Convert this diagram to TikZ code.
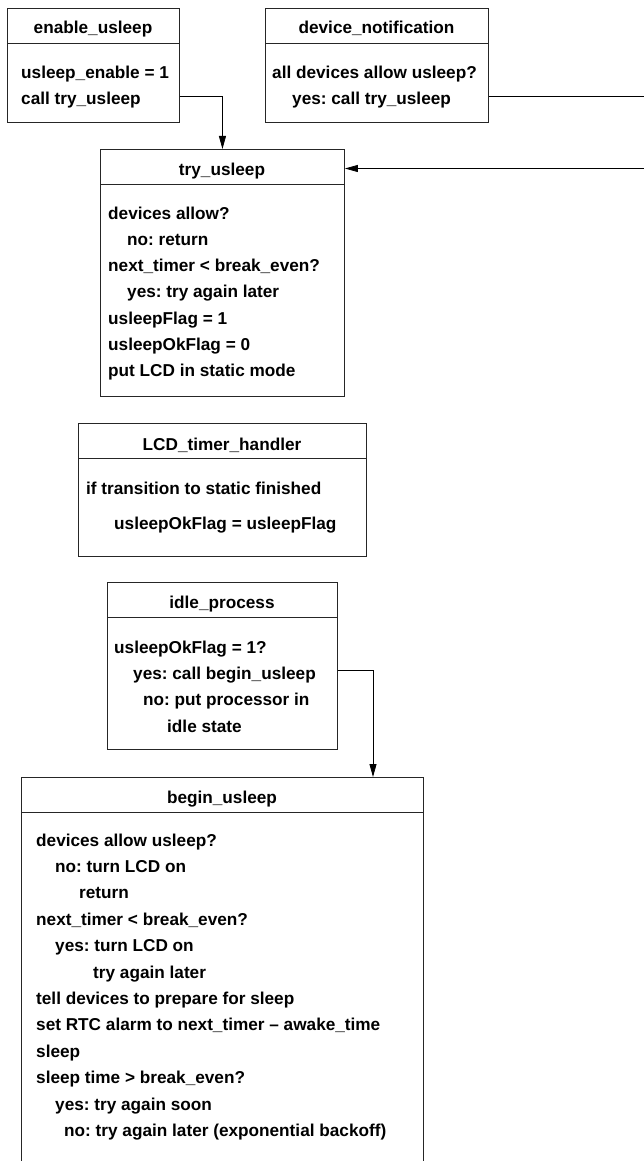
\documentclass[tikz,border=0pt]{standalone}
\usepackage{fontspec}
\setmainfont{Liberation Sans}
\usetikzlibrary{arrows.meta,calc}
\frenchspacing
\newcommand\mybodyfont{\frenchspacing\bfseries\fontsize{17.2}{20}\selectfont}
\begin{document}
\begin{tikzpicture}[x=1pt,y=-1pt,
  box/.style={draw=black!85, line width=0.9pt, inner sep=0pt, anchor=north west, fill=white},
  ln/.style={anchor=base west, inner sep=0pt, font=\mybodyfont},
  ttl/.style={anchor=base, inner sep=0pt, font=\mybodyfont},
  divider/.style={draw=black!85, line width=0.9pt},
  arr/.style={draw=black, line width=0.8pt, -{Triangle[length=13pt,width=7pt]}}]
\fill[white] (0,0) rectangle (643,1161);
\useasboundingbox (0,0) rectangle (643,1161);

% boxes
\node[box, minimum width=172pt, minimum height=114pt] (enable) at (7,8) {};
\node[box, minimum width=223pt, minimum height=114pt] (device) at (265,8) {};
\node[box, minimum width=244pt, minimum height=247pt] (try) at (100,149) {};
\node[box, minimum width=288pt, minimum height=133pt] (lcd) at (78,423) {};
\node[box, minimum width=230pt, minimum height=167pt] (idle) at (107,582) {};
\node[box, minimum width=402pt, minimum height=420pt] (begin) at (21,777) {};

% dividers
\foreach \b in {enable,device,try,lcd,idle,begin}{
  \draw[divider] ($(\b.north west)+(0,35)$) -- ($(\b.north east)+(0,35)$);
}

% titles
\node[ttl] (tEnable) at (93,34) {enable\_usleep};
\node[ttl] (tDevice) at (376.5,34) {device\_notification};
\node[ttl] (tTry) at (222,175.5) {try\_usleep};
\node[ttl] (tLcd) at (222,450) {LCD\_timer\_handler};
\node[ttl] (tIdle) at (222,608.5) {idle\_process};
\node[ttl] (tBegin) at (222,803.5) {begin\_usleep};

% enable_usleep body
\node[ln] (e1) at (21,79) {usleep\_enable = 1};
\node[ln] (e2) at (21,105) {call try\_usleep};

% device_notification body
\node[ln] (d1) at (272,79) {all devices allow usleep?};
\node[ln] (d2) at (292,105) {yes: call try\_usleep};

% try_usleep body
\node[ln] (t1) at (108,219) {devices allow?};
\node[ln] (t2) at (127,245.3) {no: return};
\node[ln] (t3) at (108,271.6) {next\_timer < break\_even?};
\node[ln] (t4) at (127,297.9) {yes: try again later};
\node[ln] (t5) at (108,324.2) {usleepFlag = 1};
\node[ln] (t6) at (108,350.5) {usleepOkFlag = 0};
\node[ln] (t7) at (108,376.8) {put LCD in static mode};

% LCD_timer_handler body
\node[ln] (l1) at (86,494) {if transition to static finished};
\node[ln] (l2) at (114,529) {usleepOkFlag = usleepFlag};

% idle_process body
\node[ln] (i1) at (114,653) {usleepOkFlag = 1?};
\node[ln] (i2) at (133,679) {yes: call begin\_usleep};
\node[ln] (i3) at (143,705.5) {no: put processor in};
\node[ln] (i4) at (167,732) {idle state};

% begin_usleep body
\node[ln] (b1) at (36,846) {devices allow usleep?};
\node[ln] (b2) at (55,872.4) {no: turn LCD on};
\node[ln] (b3) at (79,898.8) {return};
\node[ln] (b4) at (36,925.2) {next\_timer < break\_even?};
\node[ln] (b5) at (55,951.6) {yes: turn LCD on};
\node[ln] (b6) at (93,978) {try again later};
\node[ln] (b7) at (36,1004.4) {tell devices to prepare for sleep};
\node[ln] (b8) at (36,1030.8) {set RTC alarm to next\_timer \textendash{} awake\_time};
\node[ln] (b9) at (36,1057.2) {sleep};
\node[ln] (b10) at (36,1083.6) {sleep time > break\_even?};
\node[ln] (b11) at (55,1110) {yes: try again soon};
\node[ln] (b12) at (64,1136.4) {no: try again later (exponential backoff)};

% connectors
\draw[arr] ($(enable.north east)+(0,88.7)$) -| (try.north);
\coordinate (dnA) at (660,96.7);
\coordinate (dnB) at (660,168.5);
\draw[arr] ($(device.north east)+(0,88.7)$) -- (dnA) -- (dnB) -- (try.east |- dnB);
\coordinate (ibx) at (373,0);
\draw[arr] ($(idle.north east)+(0,88)$) -| (begin.north -| ibx);
\end{tikzpicture}
\end{document}
